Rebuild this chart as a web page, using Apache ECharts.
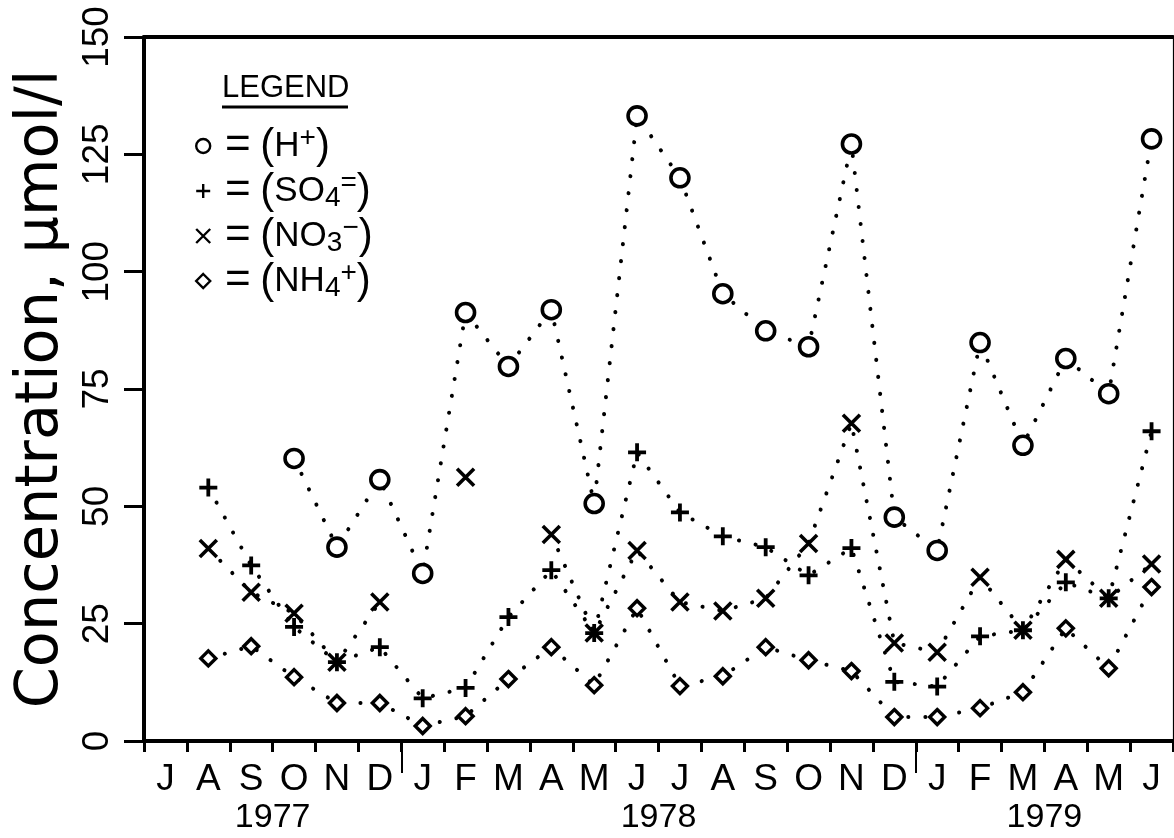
<!DOCTYPE html>
<html>
<head>
<meta charset="utf-8">
<script src="https://cdn.jsdelivr.net/npm/echarts@6/dist/echarts.min.js"></script>
<style>
html,body{margin:0;padding:0;background:#fff;}
#chart{width:1174px;height:838px;}
</style>
</head>
<body>
<div id="chart"></div>
<script>
// ---- data (Jul 1977 .. Jun 1979) ----
var months = ['Jul','Aug','Sep','Oct','Nov','Dec',
              'Jan','Feb','Mar','Apr','May','Jun','Jul','Aug','Sep','Oct','Nov','Dec',
              'Jan','Feb','Mar','Apr','May','Jun'];
var years = ['1977','1978','1979'];
var monthsPerYear = [6, 12, 6];
var yTicks = [0, 25, 50, 75, 100, 125, 150];

var hPlus = [null,null,null,60.2,41.3,55.7, 35.7,91.3,79.8,91.9,50.6,133.2,120.0,95.3,87.4,84.0,127.2,47.7, 40.6,84.9,63.0,81.5,74.0,128.3];
var so4   = [null,54.0,37.4,24.3,16.8,20.0, 9.1,11.3,26.4,36.4,23.0,61.5,48.7,43.6,41.3,35.3,41.1,12.6, 11.6,22.3,23.6,33.8,30.4,66.0];
var no3   = [null,41.0,31.7,27.2,16.8,29.6, null,56.2,null,44.0,23.0,40.6,29.6,27.7,30.4,42.1,67.7,20.9, 18.9,34.9,23.6,38.7,30.4,37.7];
var nh4   = [null,17.6,20.2,13.6,8.1,8.1, 3.2,5.3,13.2,20.0,11.9,28.3,11.7,13.8,20.0,17.2,14.9,5.1, 5.1,7.0,10.4,24.0,15.5,32.8];

// ---- derived ----
var categories = [];
(function(){
  var k = 0;
  for (var y = 0; y < years.length; y++) {
    for (var m = 0; m < monthsPerYear[y]; m++) { categories.push(months[k] + ' ' + years[y]); k++; }
  }
})();
var yearBounds = [], yearCenters = [];
(function(){
  var acc = 0;
  for (var y = 0; y < years.length; y++) {
    yearCenters.push(acc + monthsPerYear[y] / 2);
    acc += monthsPerYear[y];
    if (y < years.length - 1) yearBounds.push(acc);
  }
})();

var narrow = '"Liberation Sans Narrow", "Liberation Sans", sans-serif';
var regular = '"Liberation Sans", "DejaVu Sans", sans-serif';

var SYM_CIRCLE = 'path://M10,0 A10,10 0 1,1 -10,0 A10,10 0 1,1 10,0 Z';
var SYM_PLUS = 'path://M0,-10 L0,10 M-10,0 L10,0';
var SYM_X = 'path://M-10,-10 L10,10 M-10,10 L10,-10';
var SYM_DIAMOND = 'path://M0,-10 L10,0 L0,10 L-10,0 Z';

var dotted = { color: '#000', width: 4, type: [0.1, 17], cap: 'round' };

function mkSeries(name, data, symbol, size, fill, bw) {
  return {
    name: name, type: 'line', data: data,
    symbol: symbol, symbolSize: size, showAllSymbol: true,
    connectNulls: false,
    lineStyle: dotted,
    itemStyle: { color: fill, borderColor: '#000', borderWidth: bw },
    emphasis: { disabled: true },
    z: 3
  };
}

var legendText = {
  'H+':   ' {e|=} {p|(}H{sup|+}{p|)}',
  'SO4=': ' {e|=} {p|(}SO{sub|4}{sup|=}{p|)}',
  'NO3-': ' {e|=} {p|(}NO{sub|3}{sup|\u2212}{p|)}',
  'NH4+': ' {e|=} {p|(}NH{sub|4}{sup|+}{p|)}'
};

var chart = echarts.init(document.getElementById('chart'), null, { renderer: 'canvas' });
chart.setOption({
  backgroundColor: '#fff',
  animation: false,
  grid: { left: 144, right: 1, top: 37, bottom: 97, containLabel: false, outerBoundsMode: 'none' },
  title: {
    text: 'LEGEND\n{u|}',
    left: 217, top: 67,
    textStyle: {
      fontFamily: regular, fontSize: 31, fontWeight: 'normal', color: '#000', lineHeight: 32,
      rich: { u: { width: 126, height: 3, backgroundColor: '#000', lineHeight: 6 } }
    }
  },
  legend: {
    orient: 'vertical', left: 190, top: 119, itemGap: 1,
    itemWidth: 14, itemHeight: 14, selectedMode: false,
    data: [
      { name: 'H+', icon: SYM_CIRCLE, itemStyle: { color: '#fff', borderColor: '#000', borderWidth: 2.4 } },
      { name: 'SO4=', icon: SYM_PLUS, itemStyle: { color: '#000', borderColor: '#000', borderWidth: 2.4 } },
      { name: 'NO3-', icon: SYM_X, itemStyle: { color: '#000', borderColor: '#000', borderWidth: 2.4 } },
      { name: 'NH4+', icon: SYM_DIAMOND, itemStyle: { color: '#fff', borderColor: '#000', borderWidth: 2.4 } }
    ],
    formatter: function (n) { return legendText[n]; },
    textStyle: {
      fontFamily: regular, fontSize: 35, color: '#000', lineHeight: 32, verticalAlign: 'middle',
      rich: {
        e: { fontFamily: regular, fontSize: 44, lineHeight: 32, verticalAlign: 'middle', color: '#000' },
        p: { fontFamily: regular, fontSize: 42, lineHeight: 32, verticalAlign: 'middle', color: '#000' },
        sup: { fontFamily: regular, fontSize: 28, lineHeight: 20, padding: [0, 0, 16, 0], verticalAlign: 'middle', color: '#000' },
        sub: { fontFamily: regular, fontSize: 28, lineHeight: 20, padding: [14, 0, 0, 0], verticalAlign: 'middle', color: '#000' }
      }
    }
  },
  xAxis: [
    {
      type: 'category', data: categories, boundaryGap: true, position: 'bottom',
      axisLine: { show: true, lineStyle: { color: '#000', width: 4 } },
      axisTick: { show: true, interval: 0, length: 11, lineStyle: { color: '#000', width: 3 } },
      axisLabel: { interval: 0, margin: 20, color: '#000', fontFamily: narrow, fontSize: 37,
        formatter: function (v) { return v.charAt(0); } },
      splitLine: { show: false }
    },
    {
      type: 'value', min: 0, max: categories.length, position: 'bottom',
      axisLine: { show: false },
      axisTick: { show: true, customValues: yearBounds, length: 32, lineStyle: { color: '#000', width: 2 } },
      axisLabel: { customValues: yearCenters, margin: 60, color: '#000', fontFamily: regular, fontSize: 34,
        formatter: function (v) { var i = yearCenters.indexOf(v); return i >= 0 ? years[i] : ''; } },
      splitLine: { show: false }
    },
    {
      type: 'category', data: categories, position: 'top',
      axisLine: { show: true, lineStyle: { color: '#000', width: 4 } },
      axisTick: { show: false }, axisLabel: { show: false }, splitLine: { show: false }
    }
  ],
  yAxis: [
    {
      type: 'value', min: yTicks[0], max: yTicks[yTicks.length - 1], interval: yTicks[1] - yTicks[0],
      name: 'Concentration, \u03bcmol/l', nameLocation: 'middle', nameGap: 73, nameRotate: 90,
      nameTextStyle: { fontFamily: '"DejaVu Sans", sans-serif', fontSize: 59, color: '#000' },
      axisLine: { show: true, lineStyle: { color: '#000', width: 4 } },
      axisTick: { show: true, length: 20, lineStyle: { color: '#000', width: 3 } },
      axisLabel: { rotate: 90, margin: 28, color: '#000', fontFamily: narrow, fontSize: 37 },
      splitLine: { show: false }
    },
    {
      type: 'value', min: yTicks[0], max: yTicks[yTicks.length - 1], position: 'right',
      axisLine: { show: true, lineStyle: { color: '#000', width: 1.2 } },
      axisTick: { show: false }, axisLabel: { show: false }, splitLine: { show: false }
    }
  ],
  series: [
    mkSeries('H+', hPlus, SYM_CIRCLE, 18, '#fff', 3.6),
    mkSeries('SO4=', so4, SYM_PLUS, 18, '#000', 3.8),
    mkSeries('NO3-', no3, SYM_X, 17, '#000', 3.6),
    mkSeries('NH4+', nh4, SYM_DIAMOND, 15, '#fff', 3.4)
  ]
});
</script>
</body>
</html>
